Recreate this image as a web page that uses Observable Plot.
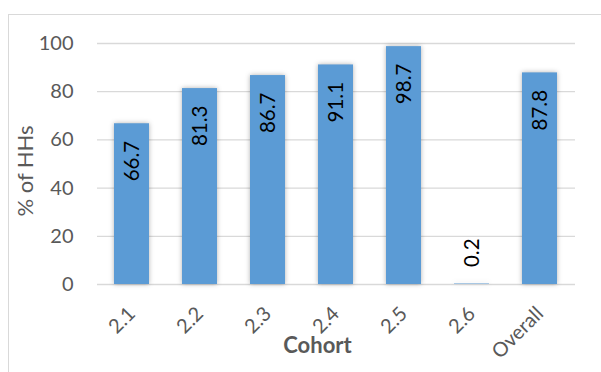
<!DOCTYPE html>
<html>
<head>
<meta charset="utf-8">
<script src="https://cdn.jsdelivr.net/npm/d3@7"></script>
<script src="https://cdn.jsdelivr.net/npm/@observablehq/plot@0.6"></script>
<style>
  html, body { margin: 0; padding: 0; background: #fff; overflow: hidden; }
  #wrap { position: relative; width: 601px; height: 372px; overflow: hidden; }
  #border { position: absolute; left: 8px; top: 14px; width: 700px; height: 500px; border: 1px solid #d9d9d9; box-sizing: border-box; pointer-events: none; }
  #chart { position: absolute; left: 0; top: 0; }
  #chart svg { font-family: Lato, "Open Sans", sans-serif; }
</style>
</head>
<body>
<div id="wrap"><div id="border"></div><div id="chart"></div></div>
<script>
const categories = ["2.1", "2.2", "2.3", "2.4", "2.5", "2.6", "Overall"];
const values = [66.7, 81.3, 86.7, 91.1, 98.7, 0.2, 87.8];
const yTicks = [0, 20, 40, 60, 80, 100];
const xTitle = "Cohort";
const yTitle = "% of HHs";

const data = categories.map((c, i) => ({cohort: c, value: values[i]}));
const barColor = "#5B9BD5";
const gray = "#595959";

const chart = Plot.plot({
  width: 601,
  height: 372,
  marginLeft: 97,
  marginRight: 26,
  marginTop: 43,
  marginBottom: 88,
  style: {background: "transparent", fontFamily: "Lato, 'Open Sans', sans-serif"},
  x: {domain: categories, paddingInner: 0.48, paddingOuter: 0.24},
  y: {domain: [0, 100]},
  marks: [
    Plot.ruleY(yTicks, {stroke: "#d9d9d9", strokeWidth: 1.3}),
    Plot.barY(data, {x: "cohort", y: "value", fill: barColor,
      imageFilter: "drop-shadow(0.5px 0.5px 2.5px rgba(0,0,0,0.3))"}),
    Plot.axisY({ticks: yTicks, tickSize: 0, tickPadding: 24, fontSize: 20, color: gray, label: null}),
    Plot.axisX({tickSize: 0, tickRotate: -45, tickPadding: 26, fontSize: 20, color: gray, label: null}),
    Plot.text(data.filter(d => d.value >= 5), {x: "cohort", y: "value", text: d => d.value.toFixed(1),
      rotate: -90, textAnchor: "end", dy: 17, fontSize: 20.5, fill: "#000"}),
    Plot.text(data.filter(d => d.value < 5), {x: "cohort", y: "value", text: d => d.value.toFixed(1),
      rotate: -90, textAnchor: "start", dy: -17, fontSize: 20.5, fill: "#000"}),
    Plot.text([yTitle], {frameAnchor: "left", textAnchor: "middle", rotate: -90, dx: -72, dy: 7,
      fontSize: 22, letterSpacing: "1.5px", fill: gray}),
    Plot.text([xTitle], {frameAnchor: "bottom", textAnchor: "middle", dx: -19, dy: 68, fontSize: 22, fontWeight: "bold", fill: gray})
  ]
});
document.getElementById("chart").appendChild(chart);
</script>
</body>
</html>
